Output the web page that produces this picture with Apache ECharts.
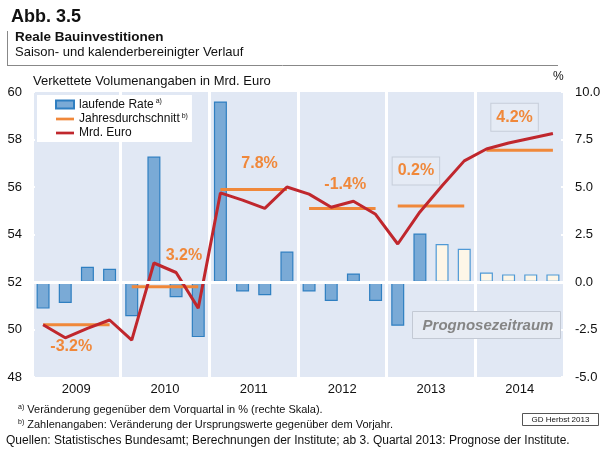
<!DOCTYPE html>
<html>
<head>
<meta charset="utf-8">
<script src="https://cdn.jsdelivr.net/npm/echarts@6/dist/echarts.min.js"></script>
<style>
  html, body { margin: 0; padding: 0; background: #fff; }
  #chart { width: 608px; height: 451px; }
</style>
</head>
<body>
<div id="chart"></div>
<script>
// data
const years = ['2009', '2010', '2011', '2012', '2013', '2014'];
const quarters = [];
years.forEach(y => { for (let q = 1; q <= 4; q++) quarters.push(y + ' Q' + q); });

// laufende Rate (% ggü. Vorquartal, rechte Skala)
const rateVals = [
  -1.4, -1.1, 0.8, 0.7,
  -1.8, 6.6, -0.8, -2.9,
  9.5, -0.5, -0.7, 1.6,
  -0.5, -1.0, 0.45, -1.0,
  -2.3, 2.55, 2.0, 1.75,
  0.5, 0.4, 0.4, 0.4
];
// Mrd. Euro (linke Skala)
const mrdVals = [
  50.2, 49.65, 50.05, 50.4,
  49.55, 52.8, 52.4, 50.9,
  55.75, 55.45, 55.1, 56.0,
  55.7, 55.15, 55.4, 54.85,
  53.6, 54.95, 56.05, 57.1,
  57.6, 57.85, 58.05, 58.25
];
// Jahresdurchschnitt (linke Skala) and its label
const yearAvg = [50.2, 51.8, 55.9, 55.1, 55.2, 57.55];
const yearPct = ['-3.2%', '3.2%', '7.8%', '-1.4%', '0.2%', '4.2%'];
const forecastStart = 18; // ab 3. Quartal 2013

// label placement (styling only)
const pctOffsets = [[6, 22], [30, -31], [17, -26], [14, -24], [-4, -35], [6, -33]];
const pctBoxed = [false, false, false, false, true, true];

const blue = '#7aaad6';
const blueBorder = '#2f7fc1';
const orange = '#f0883a';
const red = '#c0272d';
const plotBg = '#e1e8f4';
const font = '"Liberation Sans", Arial, sans-serif';
const lineIcon = 'path://M0,0L20,0L20,3L0,3Z';

const chart = echarts.init(document.getElementById('chart'));

const barData = rateVals.map((v, i) => i >= forecastStart
  ? { value: v, itemStyle: { color: '#fdf6e7', borderColor: '#4f99d6' } }
  : v);

const avgSeries = yearAvg.map((avg, y) => {
  const data = quarters.map((q, i) => (Math.floor(i / 4) === y ? avg : null));
  return {
    name: 'Jahresdurchschnitt',
    type: 'line',
    yAxisIndex: 0,
    data: data,
    symbol: 'none',
    z: 3,
    lineStyle: { color: orange, width: 3 },
    itemStyle: { color: orange },
    markPoint: {
      symbol: 'circle',
      symbolSize: 1,
      silent: true,
      itemStyle: { color: 'rgba(0,0,0,0)' },
      data: [{
        coord: [y * 4 + 1, avg],
        label: {
          show: true,
          formatter: yearPct[y],
          position: 'inside',
          offset: pctOffsets[y],
          color: orange,
          fontFamily: font,
          fontWeight: 'bold',
          fontSize: 16,
          padding: pctBoxed[y] ? [6, 5, 5, 5] : 0,
          borderColor: pctBoxed[y] ? '#c6cdd9' : 'transparent',
          borderWidth: pctBoxed[y] ? 1 : 0,
          backgroundColor: pctBoxed[y] ? '#e5ebf5' : 'transparent'
        }
      }]
    }
  };
});

const sups = { 'laufende Rate': 'a)', 'Jahresdurchschnitt': 'b)', 'Mrd. Euro': '' };

chart.setOption({
  animation: false,
  textStyle: { fontFamily: font },
  grid: {
    left: 32, right: 44, top: 92, bottom: 74,
    show: true, backgroundColor: plotBg, borderWidth: 0
  },
  legend: {
    data: [
      { name: 'laufende Rate', icon: 'rect' },
      { name: 'Jahresdurchschnitt', icon: lineIcon },
      { name: 'Mrd. Euro', icon: lineIcon }
    ],
    orient: 'vertical',
    left: 37, top: 95,
    backgroundColor: '#fff',
    padding: [3, 4, 3, 18],
    itemGap: 2,
    itemWidth: 18,
    itemHeight: 8,
    symbolKeepAspect: true,
    textStyle: {
      fontSize: 12, color: '#111', fontFamily: font,
      rich: { sup: { fontSize: 7, verticalAlign: 'top', padding: [0, 0, 6, 2], color: '#111' } }
    },
    formatter: name => sups[name] ? name + '{sup|' + sups[name] + '}' : name
  },
  xAxis: [
    {
      type: 'category', data: quarters, show: false, boundaryGap: true
    },
    {
      type: 'category', data: years, position: 'bottom', boundaryGap: true,
      axisLine: { show: false }, axisTick: { show: false },
      axisLabel: { fontSize: 13, color: '#111', margin: 6 },
      splitLine: { show: true, lineStyle: { color: '#fff', width: 3 } }
    }
  ],
  yAxis: [
    {
      type: 'value', min: 48, max: 60, interval: 2, position: 'left',
      axisLine: { show: false },
      axisTick: { show: true, inside: true, length: 3, lineStyle: { color: '#fff', width: 2 } },
      axisLabel: { fontSize: 13, color: '#111', margin: 10 },
      splitLine: { show: false }
    },
    {
      type: 'value', min: -5, max: 10, interval: 2.5, position: 'right',
      axisLine: { show: false },
      axisTick: { show: true, inside: true, length: 3, lineStyle: { color: '#fff', width: 2 } },
      axisLabel: { fontSize: 13, color: '#111', margin: 11, formatter: v => v.toFixed(1) },
      splitLine: { show: false }
    }
  ],
  series: [
    {
      name: 'laufende Rate',
      type: 'bar',
      xAxisIndex: 0,
      yAxisIndex: 1,
      barWidth: 13,
      z: 2,
      data: barData,
      itemStyle: { color: blue, borderColor: blueBorder, borderWidth: 1.2 },
      markLine: {
        silent: true,
        symbol: 'none',
        label: { show: false },
        lineStyle: { color: '#fff', width: 3, type: 'solid' },
        data: [{ yAxis: 0 }]
      }
    },
    ...avgSeries,
    {
      name: 'Mrd. Euro',
      type: 'line',
      xAxisIndex: 0,
      yAxisIndex: 0,
      data: mrdVals,
      symbol: 'none',
      z: 4,
      lineStyle: { color: red, width: 3 },
      itemStyle: { color: red }
    }
  ],
  graphic: [
    { type: 'text', left: 11, top: 8, style: { text: 'Abb. 3.5', font: 'bold 18px ' + font, fill: '#111' } },
    { type: 'line', shape: { x1: 7.5, y1: 31, x2: 7.5, y2: 66 }, style: { stroke: '#888', lineWidth: 1 } },
    { type: 'line', shape: { x1: 7, y1: 65.5, x2: 558, y2: 65.5 }, style: { stroke: '#888', lineWidth: 1 } },
    { type: 'text', left: 15, top: 30, style: { text: 'Reale Bauinvestitionen', font: 'bold 13.5px ' + font, fill: '#111' } },
    { type: 'text', left: 15, top: 46, style: { text: 'Saison- und kalenderbereinigter Verlauf', font: '13px ' + font, fill: '#111' } },
    { type: 'text', left: 33, top: 75, style: { text: 'Verkettete Volumenangaben in Mrd. Euro', font: '13px ' + font, fill: '#111' } },
    { type: 'text', left: 553, top: 71, style: { text: '%', font: '12px ' + font, fill: '#111' } },
    { type: 'rect', z: 100, shape: { x: 412.5, y: 311.5, width: 148, height: 27 }, style: { fill: '#e6ebf4', stroke: '#c3c9d4', lineWidth: 1 } },
    { type: 'text', z: 101, style: { x: 488, y: 325.5, text: 'Prognosezeitraum', font: 'italic bold 15px ' + font, fill: '#858585', align: 'center', verticalAlign: 'middle' } },
    {
      type: 'text', left: 18, top: 404,
      style: {
        text: '{s|a)} Veränderung gegenüber dem Vorquartal in % (rechte Skala).',
        font: '11px ' + font, fill: '#111',
        rich: { s: { fontSize: 7, verticalAlign: 'top', padding: [0, 0, 4, 0] } }
      }
    },
    {
      type: 'text', left: 18, top: 419,
      style: {
        text: '{s|b)} Zahlenangaben: Veränderung der Ursprungswerte gegenüber dem Vorjahr.',
        font: '11px ' + font, fill: '#111',
        rich: { s: { fontSize: 7, verticalAlign: 'top', padding: [0, 0, 4, 0] } }
      }
    },
    { type: 'text', left: 6, top: 435, style: { text: 'Quellen: Statistisches Bundesamt; Berechnungen der Institute; ab 3. Quartal 2013: Prognose der Institute.', font: '12px ' + font, fill: '#111' } },
    { type: 'rect', shape: { x: 522.5, y: 413.5, width: 76, height: 12 }, style: { fill: '#fff', stroke: '#555', lineWidth: 1 } },
    { type: 'text', style: { x: 560.5, y: 420, text: 'GD Herbst 2013', font: '8px ' + font, fill: '#111', align: 'center', verticalAlign: 'middle' } }
  ]
});
</script>
</body>
</html>
